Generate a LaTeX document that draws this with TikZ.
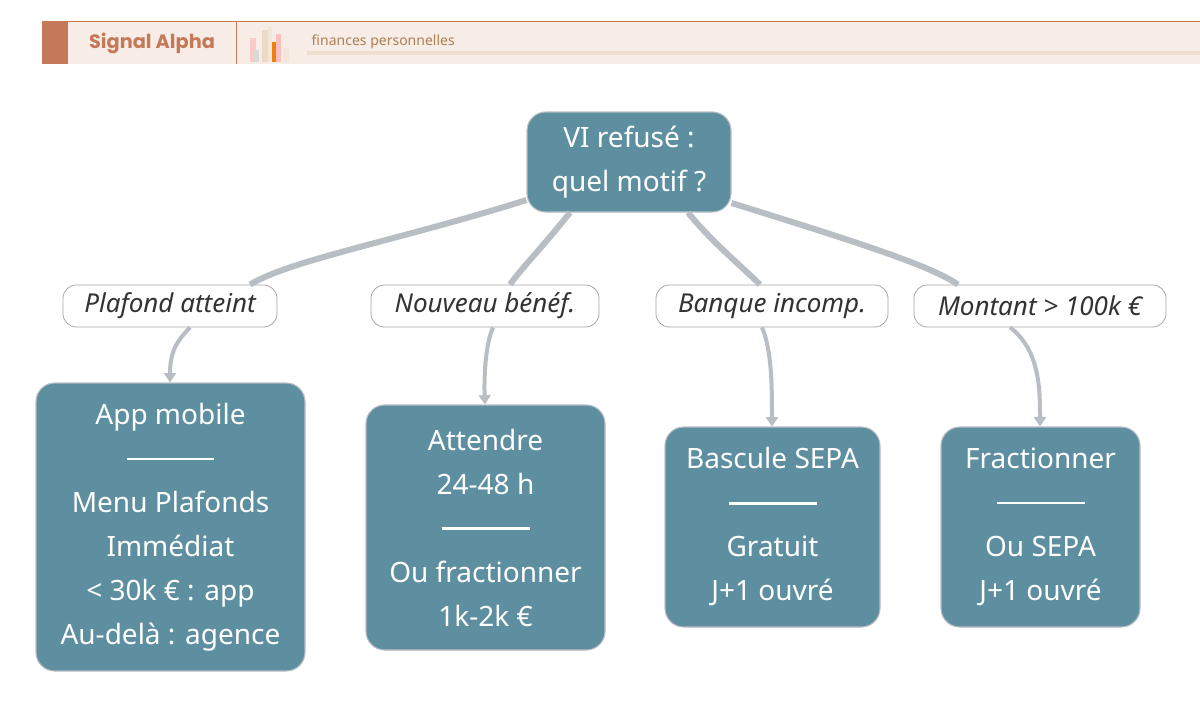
\documentclass[tikz,border=0pt]{standalone}
\usepackage{fontspec}
\setmainfont{Noto Sans}
\newfontfamily\pop{Poppins}
\usetikzlibrary{arrows.meta}
\definecolor{boxc}{HTML}{5E8FA0}
\definecolor{edgec}{HTML}{B9BDC4}
\definecolor{terra}{HTML}{C47A5A}
\definecolor{band}{HTML}{F7ECE6}
\begin{document}
\begin{tikzpicture}[x=0.75pt,y=-0.75pt,
 box/.style={draw=edgec,line width=0.8pt,fill=boxc,rounded corners=14pt,text=white,font=\fontsize{21}{33}\selectfont,align=center,inner sep=0pt},
 lab/.style={draw=gray!70,line width=0.6pt,fill=white,rounded corners=10pt,font=\fontsize{19.5}{22}\selectfont\itshape,text=black!80,inner sep=0pt},
 con/.style={edgec,line width=4.5pt},
 arr/.style={edgec,line width=3pt,-{Triangle[length=7pt,width=9pt]}}]
\newcommand{\sep}{\rule[0.3em]{66pt}{1.6pt}}
\useasboundingbox (0,0) rectangle (1200,721);
\fill[white] (0,0) rectangle (1200,721);
% header
\fill[band] (42,21) rectangle (1200,64);
\draw[terra,line width=0.6pt] (42,21) -- (1200,21);
\fill[terra] (42,21) rectangle (68,64);
\draw[terra,line width=0.6pt] (236,21) -- (236,64);
\node[font=\pop\fontsize{14.5}{16}\selectfont\bfseries,text=terra] (brand) at (152,43) {Signal Alpha};
\fill[red!30,opacity=.6] (250,38) rectangle (256,62);
\fill[black!15] (253,50) rectangle (259,62);
\fill[brown!30] (262,30) rectangle (268,62);
\fill[brown!20] (268,26) rectangle (272,62);
\fill[orange!70!brown] (272,42) rectangle (276,62);
\fill[red!25] (276,34) rectangle (281,62);
\fill[brown!20] (283,48) rectangle (289,62);
\fill[brown!25] (307,51) rectangle (1200,55);
\node[anchor=west,font=\fontsize{10.5}{12}\selectfont,text=brown!70!gray] (sub) at (307,42) {finances personnelles};
% nodes
\node[box,minimum width=204*0.75pt,minimum height=100*0.75pt] (root) at (629,162) {\raisebox{-4pt}{VI refusé :}\\\raisebox{-4pt}{quel motif ?}};
\node[lab,minimum width=214*0.75pt,minimum height=42*0.75pt] (l1) at (170,306) {Plafond atteint};
\node[lab,minimum width=228*0.75pt,minimum height=42*0.75pt] (l2) at (485,306) {Nouveau bénéf.};
\node[lab,minimum width=232*0.75pt,minimum height=42*0.75pt] (l3) at (772,306) {Banque incomp.};
\node[lab,minimum width=252*0.75pt,minimum height=42*0.75pt] (l4) at (1040,306) {Montant > 100k €};
\node[box,minimum width=269*0.75pt,minimum height=288*0.75pt] (b1) at (170.5,527) {App mobile\\\sep\\Menu Plafonds\\Immédiat\\< 30k € : app\\Au-delà : agence};
\node[box,minimum width=239*0.75pt,minimum height=245*0.75pt] (b2) at (485.5,527.5) {Attendre\\24-48 h\\\sep\\Ou fractionner\\1k-2k €};
\node[box,minimum width=215*0.75pt,minimum height=200*0.75pt] (b3) at (772.5,527) {Bascule SEPA\\\sep\\Gratuit\\J+1 ouvré};
\node[box,minimum width=199*0.75pt,minimum height=200*0.75pt] (b4) at (1040.5,527) {Fractionner\\\sep\\Ou SEPA\\J+1 ouvré};
% connectors
\draw[con] (root.west |- 0,200) .. controls (400,240) and (290,260) .. (l1.north -| 250,0);
\draw[con] (root.south -| 570,0) .. controls (540,250) and (520,270) .. (l2.north -| 510,0);
\draw[con] (root.south -| 688,0) .. controls (710,240) and (740,265) .. (l3.north -| 760,0);
\draw[con] (root.east |- 0,203) .. controls (850,240) and (930,265) .. (l4.north -| 958,0);
\draw[arr] (l1.south -| 190,0) .. controls (178,340) and (170,350) .. (b1.north -| 170,0);
\draw[arr] (l2.south -| 493,0) .. controls (485,345) and (484,380) .. (b2.north -| 485,0);
\draw[arr] (l3.south -| 762,0) .. controls (772,350) and (772,390) .. (b3.north -| 772,0);
\draw[arr] (l4.south -| 1010,0) .. controls (1040,350) and (1040,390) .. (b4.north -| 1040,0);
\end{tikzpicture}
\end{document}
